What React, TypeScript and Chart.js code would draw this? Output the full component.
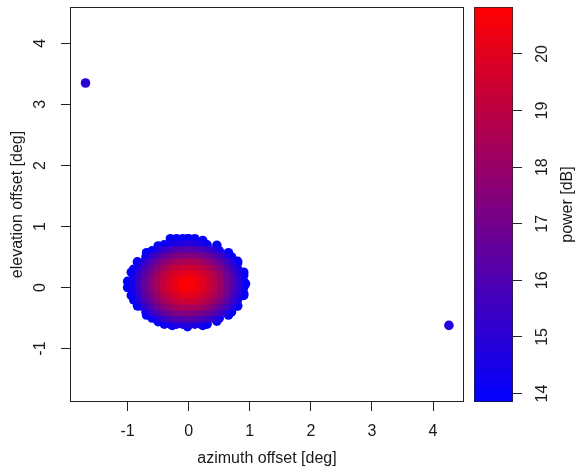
import React, { useEffect, useRef } from 'react';
import { Chart, registerables } from 'chart.js';

Chart.register(...registerables);

// ---- data ----
const azimuthGrid = [-1.0, -0.9, -0.8, -0.7, -0.6, -0.5, -0.4, -0.3, -0.2, -0.1, 0.0, 0.1, 0.2, 0.3, 0.4, 0.5, 0.6, 0.7, 0.8, 0.9];
const elevationGrid = [0.8, 0.7, 0.6, 0.5, 0.4, 0.3, 0.2, 0.1, 0.0, -0.1, -0.2, -0.3, -0.4, -0.5, -0.6];
const n = null;
const powerGrid: (number | null)[][] = [
  [n, n, n, n, n, n, n, 13.9, 14.0, 14.0, 14.0, 13.9, n, n, n, n, n, n, n, n],
  [n, n, n, n, n, n, 14.1, 14.3, 14.6, 14.7, 14.8, 14.7, 14.5, 14.1, n, n, n, n, n, n],
  [n, n, n, n, 14.0, 14.6, 15.2, 15.6, 16.0, 16.2, 16.2, 16.1, 15.8, 15.5, 15.0, 14.4, n, n, n, n],
  [n, n, n, 14.2, 15.1, 15.8, 16.4, 16.9, 17.2, 17.4, 17.4, 17.3, 17.1, 16.7, 16.2, 15.5, 14.8, 14.0, n, n],
  [n, n, 14.2, 15.1, 16.0, 16.8, 17.4, 17.9, 18.3, 18.5, 18.6, 18.5, 18.2, 17.7, 17.1, 16.5, 15.7, 14.8, 14.0, n],
  [n, 14.0, 14.9, 15.8, 16.7, 17.5, 18.2, 18.8, 19.2, 19.4, 19.5, 19.3, 19.0, 18.6, 18.0, 17.2, 16.4, 15.5, 14.5, n],
  [n, 14.2, 15.3, 16.3, 17.2, 18.1, 18.8, 19.4, 19.8, 20.1, 20.2, 20.0, 19.7, 19.2, 18.6, 17.8, 16.9, 15.9, 14.9, 14.0],
  [13.9, 14.5, 15.6, 16.6, 17.5, 18.4, 19.1, 19.7, 20.2, 20.6, 20.8, 20.5, 20.1, 19.5, 18.8, 18.1, 17.1, 16.2, 15.1, 14.0],
  [13.9, 14.4, 15.5, 16.6, 17.5, 18.3, 19.1, 19.7, 20.2, 20.7, 20.6, 20.4, 20.0, 19.5, 18.8, 18.0, 17.1, 16.1, 15.1, 14.1],
  [n, 14.1, 15.2, 16.3, 17.2, 18.0, 18.8, 19.3, 19.8, 20.1, 20.1, 20.0, 19.6, 19.2, 18.5, 17.8, 16.9, 15.8, 14.8, 14.0],
  [n, 14.0, 14.8, 15.8, 16.7, 17.5, 18.2, 18.7, 19.1, 19.4, 19.4, 19.3, 19.0, 18.5, 17.9, 17.2, 16.4, 15.4, 14.5, n],
  [n, n, 14.1, 15.1, 16.0, 16.8, 17.4, 17.9, 18.3, 18.5, 18.5, 18.4, 18.2, 17.7, 17.1, 16.4, 15.7, 14.8, 14.0, n],
  [n, n, n, 14.2, 15.1, 15.8, 16.4, 16.9, 17.2, 17.4, 17.4, 17.3, 17.0, 16.7, 16.2, 15.5, 14.8, 14.0, n, n],
  [n, n, n, n, 14.0, 14.6, 15.2, 15.6, 16.0, 16.1, 16.2, 16.0, 15.8, 15.4, 15.0, 14.4, n, n, n, n],
  [n, n, n, n, n, n, 14.1, 14.3, 14.5, 14.7, 14.7, 14.6, 14.4, 14.0, n, n, n, n, n, n],
];
// scattered samples along the blob's bumpy outer rim
const rimAzimuth = [0.93, 0.9, 0.8, 0.65, 0.46, 0.23, -0.02, -0.27, -0.5, -0.69, -0.84, -0.94, -0.98, -0.94, -0.84, -0.69, -0.5, -0.27, -0.02, 0.23, 0.46, 0.65, 0.8, 0.9];
const rimElevation = [0.06, 0.25, 0.43, 0.57, 0.69, 0.77, 0.8, 0.77, 0.68, 0.57, 0.42, 0.25, 0.05, -0.13, -0.3, -0.45, -0.56, -0.62, -0.64, -0.62, -0.55, -0.45, -0.3, -0.13];
const rimPower = [13.9, 14.0, 14.0, 13.9, 14.0, 14.0, 13.9, 14.0, 14.0, 13.9, 14.0, 14.0, 13.9, 14.0, 14.0, 13.9, 14.0, 14.0, 13.9, 14.0, 14.0, 13.9, 14.0, 14.0];
const outlierAzimuth = [-1.69, 4.26];
const outlierElevation = [3.35, -0.62];
const outlierPower = [15.0, 14.8];

const xTickValues = [-1, 0, 1, 2, 3, 4];
const yTickValues = [-1, 0, 1, 2, 3, 4];
const powerTickValues = [14, 15, 16, 17, 18, 19, 20];
const xRange = [-1.944, 4.507];
const yRange = [-1.875, 4.595];
const powerRange = [13.85, 20.83];

const xTitle = 'azimuth offset [deg]';
const yTitle = 'elevation offset [deg]';
const powerTitle = 'power [dB]';

// ---- styling ----
const FONT_FAMILY = "'Liberation Sans', Arial, Helvetica, sans-serif";
const FONT_SIZE = 16;
const TEXT = '#1a1a1a';
const LINE = '#222222';

function colorFor(p: number): string {
  let t = (p - powerRange[0]) / (powerRange[1] - powerRange[0]);
  t = Math.max(0, Math.min(1, t));
  const r = Math.round(255 * t);
  const b = Math.round(255 * (1 - t));
  return `rgb(${r},0,${b})`;
}

type Pt = { x: number; y: number; p: number };

function buildPoints(): Pt[] {
  const pts: Pt[] = [];
  elevationGrid.forEach((el, i) => {
    azimuthGrid.forEach((az, j) => {
      const v = powerGrid[i][j];
      if (v !== null && v !== undefined) pts.push({ x: az, y: el, p: v });
    });
  });
  rimAzimuth.forEach((az, k) => pts.push({ x: az, y: rimElevation[k], p: rimPower[k] }));
  outlierAzimuth.forEach((az, k) => pts.push({ x: az, y: outlierElevation[k], p: outlierPower[k] }));
  pts.sort((a, b) => a.p - b.p);
  return pts;
}

const zeroPad = (s: any) => {
  s.paddingTop = 0;
  s.paddingBottom = 0;
  s.paddingLeft = 0;
  s.paddingRight = 0;
};

const boxPlugin = {
  id: 'plotBox',
  afterDatasetsDraw(chart: any) {
    const { ctx, chartArea } = chart;
    ctx.save();
    ctx.strokeStyle = LINE;
    ctx.lineWidth = 1;
    ctx.strokeRect(
      Math.round(chartArea.left) + 0.5,
      Math.round(chartArea.top) + 0.5,
      Math.round(chartArea.right - chartArea.left) - 1,
      Math.round(chartArea.bottom - chartArea.top) - 1
    );
    ctx.restore();
  },
};

const powerTitlePlugin = {
  id: 'powerTitle',
  afterDraw(chart: any) {
    const { ctx, chartArea, width } = chart;
    ctx.save();
    ctx.translate(width - 10, (chartArea.top + chartArea.bottom) / 2);
    ctx.rotate(-Math.PI / 2);
    ctx.font = `${FONT_SIZE}px ${FONT_FAMILY}`;
    ctx.fillStyle = TEXT;
    ctx.textAlign = 'center';
    ctx.textBaseline = 'middle';
    ctx.fillText(powerTitle, 0, 0);
    ctx.restore();
  },
};

export default function App() {
  const mainRef = useRef<HTMLCanvasElement>(null);
  const barRef = useRef<HTMLCanvasElement>(null);

  useEffect(() => {
    const font = { family: FONT_FAMILY, size: FONT_SIZE };
    const points = buildPoints();

    const main = new Chart(mainRef.current as HTMLCanvasElement, {
      type: 'scatter',
      data: {
        datasets: [
          {
            data: points as any,
            pointRadius: 4.8,
            pointHoverRadius: 4.8,
            pointBorderWidth: 0,
            pointBackgroundColor: (ctx: any) => (ctx.raw ? colorFor(ctx.raw.p) : 'blue'),
          },
        ],
      },
      options: {
        animation: false,
        responsive: false,
        maintainAspectRatio: false,
        layout: { padding: { top: 7, right: 6, left: 0, bottom: 0 } },
        plugins: { legend: { display: false }, tooltip: { enabled: false } },
        scales: {
          x: {
            type: 'linear',
            min: xRange[0],
            max: xRange[1],
            afterBuildTicks: (s: any) => {
              s.ticks = xTickValues.map((v) => ({ value: v }));
            },
            afterFit: (s: any) => {
              s.height = 68;
              zeroPad(s);
            },
            border: { display: false },
            grid: { display: true, drawOnChartArea: false, drawTicks: true, tickLength: 9, color: LINE, lineWidth: 1 },
            ticks: { font, color: TEXT, padding: 11, maxRotation: 0, autoSkip: false },
            title: { display: true, text: xTitle, font, color: TEXT, padding: { top: 0, bottom: 2 } },
          },
          y: {
            type: 'linear',
            min: yRange[0],
            max: yRange[1],
            afterBuildTicks: (s: any) => {
              s.ticks = yTickValues.map((v) => ({ value: v }));
            },
            afterFit: (s: any) => {
              s.width = 70;
              zeroPad(s);
            },
            border: { display: false },
            grid: { display: true, drawOnChartArea: false, drawTicks: true, tickLength: 9, color: LINE, lineWidth: 1 },
            ticks: { font, color: TEXT, padding: 13, minRotation: 90, maxRotation: 90, crossAlign: 'center', autoSkip: false },
            title: { display: true, text: yTitle, font, color: TEXT, padding: { top: 8, bottom: 0 } },
          },
        },
      } as any,
      plugins: [boxPlugin],
    });

    const bar = new Chart(barRef.current as HTMLCanvasElement, {
      type: 'bar',
      data: {
        labels: [''],
        datasets: [
          {
            data: [[powerRange[0], powerRange[1]]] as any,
            backgroundColor: (ctx: any) => {
              const chart = ctx.chart;
              const { chartArea, scales } = chart;
              if (!chartArea || !scales.y) return 'blue';
              const g = chart.ctx.createLinearGradient(
                0,
                scales.y.getPixelForValue(powerRange[0]),
                0,
                scales.y.getPixelForValue(powerRange[1])
              );
              g.addColorStop(0, colorFor(powerRange[0]));
              g.addColorStop(1, colorFor(powerRange[1]));
              return g;
            },
            borderColor: LINE,
            borderWidth: 1,
            borderSkipped: false,
            barPercentage: 1,
            categoryPercentage: 1,
          },
        ],
      },
      options: {
        animation: false,
        responsive: false,
        maintainAspectRatio: false,
        layout: { padding: { left: 4, top: 7, right: 0, bottom: 68 } },
        plugins: { legend: { display: false }, tooltip: { enabled: false } },
        scales: {
          x: { display: false },
          y: {
            position: 'right',
            min: powerRange[0],
            max: powerRange[1],
            afterBuildTicks: (s: any) => {
              s.ticks = powerTickValues.map((v) => ({ value: v }));
            },
            afterFit: (s: any) => {
              s.width = 65;
              zeroPad(s);
            },
            border: { display: false },
            grid: { display: true, drawOnChartArea: false, drawTicks: true, tickLength: 9, color: LINE, lineWidth: 1 },
            ticks: { font, color: TEXT, padding: 12, minRotation: 90, maxRotation: 90, crossAlign: 'center', autoSkip: false },
          },
        },
      } as any,
      plugins: [powerTitlePlugin],
    });

    return () => {
      main.destroy();
      bar.destroy();
    };
  }, []);

  return (
    <div style={{ position: 'absolute', left: 0, top: 0, width: 578, height: 470, background: '#ffffff' }}>
      <canvas ref={mainRef} width={470} height={470} style={{ position: 'absolute', left: 0, top: 0, width: 470, height: 470 }} />
      <canvas ref={barRef} width={108} height={470} style={{ position: 'absolute', left: 470, top: 0, width: 108, height: 470 }} />
    </div>
  );
}
